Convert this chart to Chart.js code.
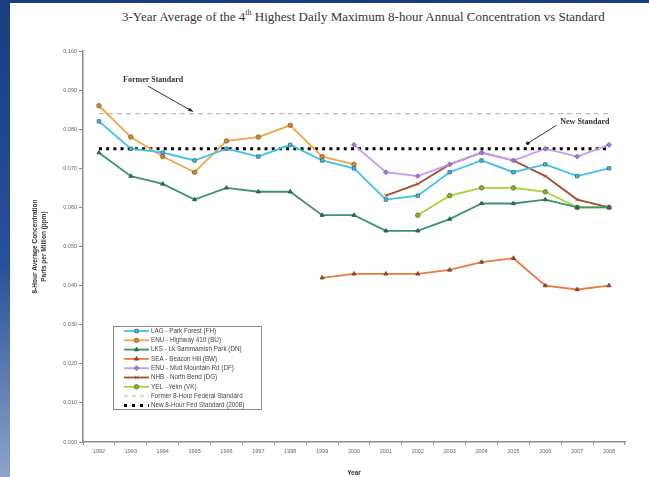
<!DOCTYPE html>
<html><head><meta charset="utf-8">
<script src="https://cdn.jsdelivr.net/npm/chart.js@4/dist/chart.umd.min.js"></script>
<style>
html,body{margin:0;padding:0;width:649px;height:477px;overflow:hidden;}
body{background:linear-gradient(180deg,#1b3d80 0%,#24509a 55%,#8ea3c9 100%);position:relative;}
#panel{position:absolute;left:10px;top:3px;right:0;bottom:0;background:#fff;}
#title{position:absolute;left:122px;top:9px;font-family:"Liberation Serif","Times New Roman",serif;font-size:13px;color:#333;white-space:nowrap;line-height:16px;}
#title sup{font-size:8px;line-height:0;vertical-align:6px;}
#wrap{position:absolute;left:0;top:0;width:649px;height:477px;}
</style></head>
<body>
<div id="panel"></div>
<div id="title">3-Year Average of the 4<sup>th</sup> Highest Daily Maximum 8-hour Annual Concentration vs Standard</div>
<div id="wrap"><canvas id="c" width="649" height="477"></canvas></div>
<script>
const years = ['1992','1993','1994','1995','1996','1997','1998','1999','2000','2001','2002','2003','2004','2005','2006','2007','2008'];
const yTicks = [0,0.01,0.02,0.03,0.04,0.05,0.06,0.07,0.08,0.09,0.10];
const seriesNames = [
  'LAG - Park Forest (FH)',
  'ENU - Highway 410 (BU)',
  'LKS - Lk Sammamish Park (DN)',
  'SEA - Beacon Hill (BW)',
  'ENU - Mud Mountain Rd (DF)',
  'NHB - North Bend (DG)',
  'YEL - Yelm (VK)',
  'Former 8-Hour Federal Standard',
  'New 8-Hour Fed Standard (2008)'
];
const lagParkForest   = [0.082,0.075,0.074,0.072,0.075,0.073,0.076,0.072,0.070,0.062,0.063,0.069,0.072,0.069,0.071,0.068,0.070];
const enuHighway410   = [0.086,0.078,0.073,0.069,0.077,0.078,0.081,0.073,0.071,null,null,null,null,null,null,null,null];
const lksSammamish    = [0.074,0.068,0.066,0.062,0.065,0.064,0.064,0.058,0.058,0.054,0.054,0.057,0.061,0.061,0.062,0.060,0.060];
const seaBeaconHill   = [null,null,null,null,null,null,null,0.042,0.043,0.043,0.043,0.044,0.046,0.047,0.040,0.039,0.040];
const enuMudMountain  = [null,null,null,null,null,null,null,null,0.076,0.069,0.068,0.071,0.074,0.072,0.075,0.073,0.076];
const nhbNorthBend    = [null,null,null,null,null,null,null,null,null,0.063,0.066,0.071,0.074,0.072,0.068,0.062,0.060];
const yelYelm         = [null,null,null,null,null,null,null,null,null,null,0.058,0.063,0.065,0.065,0.064,0.060,0.060];
const formerStandard  = [0.084,0.084,0.084,0.084,0.084,0.084,0.084,0.084,0.084,0.084,0.084,0.084,0.084,0.084,0.084,0.084,0.084];
const newStandard     = [0.075,0.075,0.075,0.075,0.075,0.075,0.075,0.075,0.075,0.075,0.075,0.075,0.075,0.075,0.075,0.075,0.075];

function ser(label, data, color, style, bg, border, r){
  return {label, data, borderColor: color, backgroundColor: bg, pointBackgroundColor: bg,
    pointBorderColor: border, pointBorderWidth: 0.8, pointStyle: style, pointRadius: r,
    borderWidth: 1.8, tension: 0, spanGaps: false, fill: false};
}
const datasets = [
  ser(seriesNames[0], lagParkForest, '#3cc3ec', 'rect', '#62b4cc', '#246f8e', 2.4),
  ser(seriesNames[1], enuHighway410, '#f4a444', 'circle', '#c98b3a', '#8d6325', 2.3),
  ser(seriesNames[2], lksSammamish, '#3d9468', 'triangle', '#2f6f50', '#245a40', 2.4),
  ser(seriesNames[3], seaBeaconHill, '#ec7a3c', 'triangle', '#8a5440', '#6a3a2a', 2.4),
  ser(seriesNames[4], enuMudMountain, '#c29cf0', 'rectRot', '#9d7fcf', '#6e55a0', 2.4),
  ser(seriesNames[5], nhbNorthBend, '#a84a30', 'crossRot', '#a84a30', '#a84a30', 2.6),
  ser(seriesNames[6], yelYelm, '#a9d13a', 'circle', '#8ba838', '#5f7a22', 2.3),
  {label: seriesNames[7], data: formerStandard, borderColor:'#bdbdbd', backgroundColor:'#bdbdbd', borderDash:[5,4], borderWidth:1.3, pointRadius:0, pointStyle:false, fill:false},
  {label: seriesNames[8], data: newStandard, borderColor:'#000', backgroundColor:'#000', borderDash:[3,4.2], borderWidth:3, borderCapStyle:'butt', pointRadius:0, pointStyle:false, fill:false}
];

const legendBox = {
  id:'legendBox',
  afterDraw(chart){
    const ctx = chart.ctx, xs = chart.scales.x, ys = chart.scales.y;
    const left = Math.round(xs.getPixelForValue(0.44)), top = Math.round(ys.getPixelForValue(0.0296));
    const w = 148, lh = 9.3, h = 83;
    ctx.save();
    ctx.fillStyle='#fff'; ctx.fillRect(left,top,w,h);
    ctx.strokeStyle='#8a8a8a'; ctx.lineWidth=1; ctx.strokeRect(left+0.5,top+0.5,w,h);
    ctx.font='6.3px "Liberation Sans", Arial, sans-serif';
    ctx.textBaseline='middle';
    chart.data.datasets.forEach((ds,i)=>{
      const y = top + 5 + i*lh;
      const x0 = left+11, x1 = left+36;
      ctx.strokeStyle = ds.borderColor;
      ctx.lineWidth = i===8 ? 3 : (i===7 ? 1.2 : 1.8);
      ctx.setLineDash(ds.borderDash ? (i===8 ? [3,5] : [4,4]) : []);
      ctx.lineCap='butt';
      ctx.beginPath(); ctx.moveTo(x0,y); ctx.lineTo(x1,y); ctx.stroke();
      ctx.setLineDash([]);
      if (ds.pointStyle){
        ctx.fillStyle = ds.pointBackgroundColor; ctx.strokeStyle = ds.pointBorderColor; ctx.lineWidth=0.8;
        Chart.helpers.drawPoint(ctx,{pointStyle:ds.pointStyle,rotation:0,radius:ds.pointRadius,borderWidth:0.8},(x0+x1)/2,y);
      }
      ctx.fillStyle='#444';
      ctx.fillText(ds.label, x1+2, y);
    });
    ctx.restore();
  }
};

const notes = {
  id:'notes',
  afterDraw(chart){
    const ctx = chart.ctx, xs = chart.scales.x, ys = chart.scales.y;
    ctx.save();
    ctx.font='bold 8px "Liberation Serif", "Times New Roman", serif';
    ctx.fillStyle='#333'; ctx.textAlign='center'; ctx.textBaseline='middle';
    ctx.fillText('Former Standard', xs.getPixelForValue(1.7), ys.getPixelForValue(0.0925));
    ctx.fillText('New Standard', xs.getPixelForValue(15.24), ys.getPixelForValue(0.0818));
    function arrow(ax,ay,bx,by,head){
      ctx.strokeStyle='#333'; ctx.fillStyle='#222'; ctx.lineWidth=1;
      ctx.beginPath(); ctx.moveTo(ax,ay); ctx.lineTo(bx,by); ctx.stroke();
      const ang=Math.atan2(by-ay,bx-ax);
      if(head){
        ctx.beginPath(); ctx.moveTo(bx,by);
        ctx.lineTo(bx-5*Math.cos(ang-0.4), by-5*Math.sin(ang-0.4));
        ctx.lineTo(bx-5*Math.cos(ang+0.4), by-5*Math.sin(ang+0.4));
        ctx.closePath(); ctx.fill();
      } else {
        ctx.beginPath(); ctx.arc(bx,by,1.8,0,Math.PI*2); ctx.fill();
      }
    }
    arrow(xs.getPixelForValue(1.54), ys.getPixelForValue(0.0910), xs.getPixelForValue(2.95), ys.getPixelForValue(0.0845), true);
    arrow(xs.getPixelForValue(14.35), ys.getPixelForValue(0.0810), xs.getPixelForValue(13.45), ys.getPixelForValue(0.0764), false);
    ctx.restore();
  }
};

new Chart(document.getElementById('c'), {
  type:'line',
  data:{labels: years, datasets},
  options:{
    responsive:false, animation:false, devicePixelRatio:1,
    layout:{padding:{left:0,right:24,top:51,bottom:0}},
    plugins:{legend:{display:false}, title:{display:false}, tooltip:{enabled:false}},
    scales:{
      x:{
        type:'category', offset:true,
        grid:{display:true, drawOnChartArea:false, offset:true, tickLength:3, color:'#888', tickColor:'#888'},
        border:{color:'#8c8c8c', width:1.5},
        ticks:{font:{size:5.5, family:'"Liberation Sans", Arial, sans-serif'}, color:'#666', padding:3, maxRotation:0, autoSkip:false},
        title:{display:true, text:'Year', font:{size:6.5, weight:'bold', family:'"Liberation Sans", Arial, sans-serif'}, color:'#333', padding:{top:0,bottom:0}},
        afterFit(s){ s.height = 35; }
      },
      y:{
        min:0, max:0.1,
        afterBuildTicks(s){ s.ticks = yTicks.map(v=>({value:v})); },
        grid:{display:true, drawOnChartArea:false, tickLength:4, color:'#888', tickColor:'#888'},
        border:{color:'#8c8c8c', width:1.5},
        ticks:{font:{size:5.5, family:'"Liberation Sans", Arial, sans-serif'}, color:'#666', padding:2, callback:(v)=>Number(v).toFixed(3)},
        title:{display:true, text:['8-Hour Average Concentration','Parts per Million (ppm)'], font:{size:6.5, weight:'bold', lineHeight:1.35, family:'"Liberation Sans", Arial, sans-serif'}, color:'#333', padding:{top:31,bottom:0}},
        afterFit(s){ s.width = 83; }
      }
    }
  },
  plugins:[legendBox, notes]
});
</script>
</body></html>
